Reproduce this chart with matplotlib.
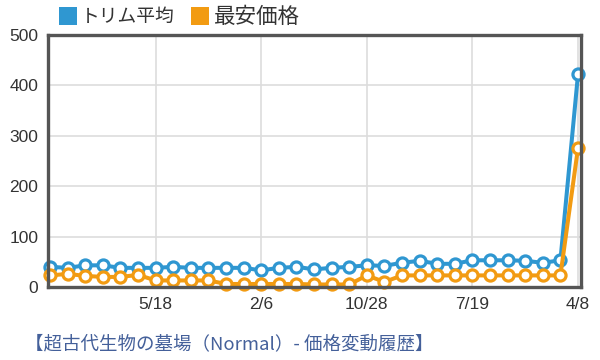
import matplotlib
matplotlib.use("Agg")
import matplotlib.pyplot as plt
from matplotlib.patches import Rectangle

# price history (31 samples)
trim_avg = [40, 38, 43, 43, 38, 38, 38, 40, 38, 38,
            38, 38, 33, 38, 40, 35, 38, 40, 43, 42,
            48, 52, 46, 46, 53, 53, 53, 52, 48, 53, 422]
min_price = [23, 26, 22, 20, 20, 24, 13, 13, 13, 13,
             6, 6, 6, 6, 6, 5, 5, 5, 23, 10,
             23, 23, 23, 23, 23, 23, 23, 23, 23, 23, 276]
tick_idx = [6, 12, 18, 24, 30]
tick_labels = ["5/18", "2/6", "10/28", "7/19", "4/8"]
series_names = ["トリム平均", "最安価格"]
caption = "【超古代生物の墓場（Normal）- 価格変動履歴】"

blue = "#2f97d1"
orange = "#f29b12"
jp = ["Noto Sans CJK JP", "DejaVu Sans"]

fig = plt.figure(figsize=(6, 3.6), dpi=100)
ax = fig.add_axes([48 / 600, 1 - 287 / 360, 533 / 600, 252 / 360])

x = list(range(len(trim_avg)))
for vals, col in [(trim_avg, blue), (min_price, orange)]:
    ax.plot(x, vals, color=col, lw=2.9, marker="o", ms=8, mfc="white",
            mec=col, mew=2.3, clip_on=False, zorder=3)

ax.set_xlim(-0.12, 30.17)
ax.set_ylim(0, 500)
ax.set_yticks([0, 100, 200, 300, 400, 500])
ax.set_xticks(tick_idx)
ax.set_xticklabels(tick_labels)
ax.grid(True, color="#dddddd", lw=1.2, zorder=0)
ax.tick_params(length=0, labelsize=12.5, labelcolor="#333333", pad=7)
for lab in ax.get_xticklabels() + ax.get_yticklabels():
    lab.set_family("Liberation Sans")
for sp in ax.spines.values():
    sp.set_color("#555555")
    sp.set_linewidth(2.4)
    sp.set_zorder(4)

# legend at the top
for (x0, txt_x, name, col, fs) in [(59, 81, series_names[0], blue, 13.5),
                                   (191, 214, series_names[1], orange, 15.5)]:
    fig.add_artist(Rectangle((x0 / 600, 1 - 25 / 360), 18 / 600, 18 / 360,
                             transform=fig.transFigure, color=col, lw=0))
    fig.text(txt_x / 600, 1 - 16.5 / 360, name, family=jp, fontsize=fs,
             color="#333333", va="center", ha="left")

fig.text(25 / 600, 1 - 344 / 360, caption, family=jp, fontsize=13.3,
         color="#44609a", va="center", ha="left")

fig.savefig("out.png", dpi=100)
